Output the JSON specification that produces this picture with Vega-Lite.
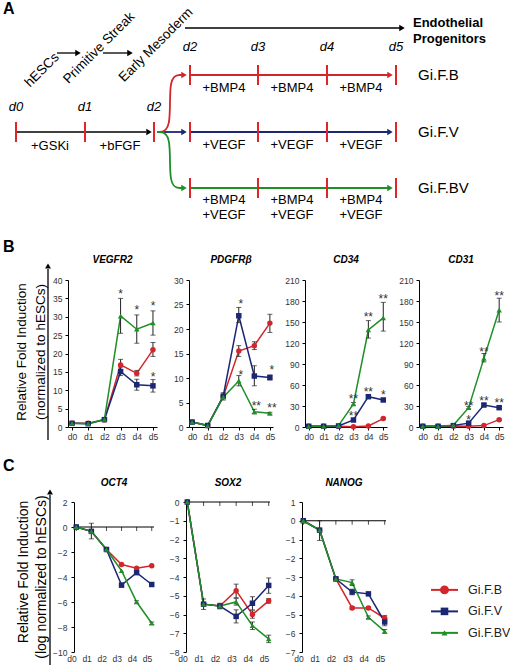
{
"$schema":"https://vega.github.io/schema/vega-lite/v6.json",
"padding":0,
"background":"white",
"bounds":"flush",
"spacing":75,
"config":{"view":{"stroke":null},"font":"Liberation Sans",
 "axis":{"labelFont":"Liberation Sans","labelFontSize":8.5,"labelColor":"#333","domainColor":"#000","tickColor":"#000","tickSize":3,"grid":false,"labelPadding":2,"domainWidth":1,"tickWidth":1},
 "axisY":{"labelPadding":3},
 "title":{"font":"Liberation Sans","fontSize":10,"fontStyle":"italic","fontWeight":"bold","color":"#000"},
 "text":{"font":"Liberation Sans"}},
"datasets":{
"s":[
{"gene":"VEGFR2","day":"d0","grp":"Gi.F.B","v":1},{"gene":"VEGFR2","day":"d0","grp":"Gi.F.V","v":1},{"gene":"VEGFR2","day":"d0","grp":"Gi.F.BV","v":1},
{"gene":"VEGFR2","day":"d1","grp":"Gi.F.B","v":1},{"gene":"VEGFR2","day":"d1","grp":"Gi.F.V","v":0.9},{"gene":"VEGFR2","day":"d1","grp":"Gi.F.BV","v":0.9},
{"gene":"VEGFR2","day":"d2","grp":"Gi.F.B","v":2},{"gene":"VEGFR2","day":"d2","grp":"Gi.F.V","v":2},{"gene":"VEGFR2","day":"d2","grp":"Gi.F.BV","v":2.1},
{"gene":"VEGFR2","day":"d3","grp":"Gi.F.B","v":16.9,"lo":15.6,"hi":18.4},{"gene":"VEGFR2","day":"d3","grp":"Gi.F.V","v":15.1,"lo":14,"hi":16.3},{"gene":"VEGFR2","day":"d3","grp":"Gi.F.BV","v":30.2,"lo":25.5,"hi":35},
{"gene":"VEGFR2","day":"d4","grp":"Gi.F.B","v":14.6,"lo":13.9,"hi":15.4},{"gene":"VEGFR2","day":"d4","grp":"Gi.F.V","v":11.5,"lo":10,"hi":13},{"gene":"VEGFR2","day":"d4","grp":"Gi.F.BV","v":26.6,"lo":22.8,"hi":30.5},
{"gene":"VEGFR2","day":"d5","grp":"Gi.F.B","v":21,"lo":19.2,"hi":23},{"gene":"VEGFR2","day":"d5","grp":"Gi.F.V","v":11.2,"lo":9.5,"hi":12.9},{"gene":"VEGFR2","day":"d5","grp":"Gi.F.BV","v":28.3,"lo":25,"hi":31.6},
{"gene":"PDGFRβ","day":"d0","grp":"Gi.F.B","v":1},{"gene":"PDGFRβ","day":"d0","grp":"Gi.F.V","v":1},{"gene":"PDGFRβ","day":"d0","grp":"Gi.F.BV","v":1},
{"gene":"PDGFRβ","day":"d1","grp":"Gi.F.B","v":0.3},{"gene":"PDGFRβ","day":"d1","grp":"Gi.F.V","v":0.3},{"gene":"PDGFRβ","day":"d1","grp":"Gi.F.BV","v":0.3},
{"gene":"PDGFRβ","day":"d2","grp":"Gi.F.B","v":6.2},{"gene":"PDGFRβ","day":"d2","grp":"Gi.F.V","v":6.3,"lo":5.5,"hi":7},{"gene":"PDGFRβ","day":"d2","grp":"Gi.F.BV","v":6.1},
{"gene":"PDGFRβ","day":"d3","grp":"Gi.F.B","v":15.5,"lo":14.4,"hi":16.6},{"gene":"PDGFRβ","day":"d3","grp":"Gi.F.V","v":22.7,"lo":21.3,"hi":24.4},{"gene":"PDGFRβ","day":"d3","grp":"Gi.F.BV","v":9.4,"lo":8.4,"hi":10.5},
{"gene":"PDGFRβ","day":"d4","grp":"Gi.F.B","v":16.6,"lo":15.8,"hi":17.4},{"gene":"PDGFRβ","day":"d4","grp":"Gi.F.V","v":10.4,"lo":8.4,"hi":12.5},{"gene":"PDGFRβ","day":"d4","grp":"Gi.F.BV","v":3.1,"lo":2.7,"hi":3.6},
{"gene":"PDGFRβ","day":"d5","grp":"Gi.F.B","v":21.2,"lo":19.3,"hi":23},{"gene":"PDGFRβ","day":"d5","grp":"Gi.F.V","v":10.1,"lo":9.6,"hi":10.6},{"gene":"PDGFRβ","day":"d5","grp":"Gi.F.BV","v":2.8,"lo":2.6,"hi":3.0},
{"gene":"CD34","day":"d0","grp":"Gi.F.B","v":1},{"gene":"CD34","day":"d0","grp":"Gi.F.V","v":1},{"gene":"CD34","day":"d0","grp":"Gi.F.BV","v":1},
{"gene":"CD34","day":"d1","grp":"Gi.F.B","v":1},{"gene":"CD34","day":"d1","grp":"Gi.F.V","v":1},{"gene":"CD34","day":"d1","grp":"Gi.F.BV","v":1},
{"gene":"CD34","day":"d2","grp":"Gi.F.B","v":1},{"gene":"CD34","day":"d2","grp":"Gi.F.V","v":1.5},{"gene":"CD34","day":"d2","grp":"Gi.F.BV","v":2},
{"gene":"CD34","day":"d3","grp":"Gi.F.B","v":0.5},{"gene":"CD34","day":"d3","grp":"Gi.F.V","v":10,"lo":8.5,"hi":11.5},{"gene":"CD34","day":"d3","grp":"Gi.F.BV","v":33,"lo":31,"hi":35},
{"gene":"CD34","day":"d4","grp":"Gi.F.B","v":1.5},{"gene":"CD34","day":"d4","grp":"Gi.F.V","v":43.3,"lo":41,"hi":45.5},{"gene":"CD34","day":"d4","grp":"Gi.F.BV","v":138.6,"lo":127,"hi":152},
{"gene":"CD34","day":"d5","grp":"Gi.F.B","v":12,"lo":10.5,"hi":13.5},{"gene":"CD34","day":"d5","grp":"Gi.F.V","v":38.6,"lo":37,"hi":40.2},{"gene":"CD34","day":"d5","grp":"Gi.F.BV","v":156,"lo":137,"hi":178},
{"gene":"CD31","day":"d0","grp":"Gi.F.B","v":1},{"gene":"CD31","day":"d0","grp":"Gi.F.V","v":1},{"gene":"CD31","day":"d0","grp":"Gi.F.BV","v":1},
{"gene":"CD31","day":"d1","grp":"Gi.F.B","v":1},{"gene":"CD31","day":"d1","grp":"Gi.F.V","v":1},{"gene":"CD31","day":"d1","grp":"Gi.F.BV","v":1},
{"gene":"CD31","day":"d2","grp":"Gi.F.B","v":1.5},{"gene":"CD31","day":"d2","grp":"Gi.F.V","v":2},{"gene":"CD31","day":"d2","grp":"Gi.F.BV","v":2.5},
{"gene":"CD31","day":"d3","grp":"Gi.F.B","v":1},{"gene":"CD31","day":"d3","grp":"Gi.F.V","v":5.5,"lo":4,"hi":7},{"gene":"CD31","day":"d3","grp":"Gi.F.BV","v":27.6,"lo":26,"hi":29.2},
{"gene":"CD31","day":"d4","grp":"Gi.F.B","v":2},{"gene":"CD31","day":"d4","grp":"Gi.F.V","v":31.4,"lo":29.5,"hi":33.5},{"gene":"CD31","day":"d4","grp":"Gi.F.BV","v":98,"lo":93,"hi":105},
{"gene":"CD31","day":"d5","grp":"Gi.F.B","v":10.5,"lo":9.5,"hi":11.5},{"gene":"CD31","day":"d5","grp":"Gi.F.V","v":27.6,"lo":26,"hi":29.5},{"gene":"CD31","day":"d5","grp":"Gi.F.BV","v":167,"lo":150,"hi":184},
{"gene":"OCT4","day":"d0","grp":"Gi.F.B","v":0},{"gene":"OCT4","day":"d0","grp":"Gi.F.V","v":0},{"gene":"OCT4","day":"d0","grp":"Gi.F.BV","v":0},
{"gene":"OCT4","day":"d1","grp":"Gi.F.B","v":-0.35},{"gene":"OCT4","day":"d1","grp":"Gi.F.V","v":-0.35,"lo":-0.95,"hi":0.3},{"gene":"OCT4","day":"d1","grp":"Gi.F.BV","v":-0.35},
{"gene":"OCT4","day":"d2","grp":"Gi.F.B","v":-1.8},{"gene":"OCT4","day":"d2","grp":"Gi.F.V","v":-1.8},{"gene":"OCT4","day":"d2","grp":"Gi.F.BV","v":-1.8},
{"gene":"OCT4","day":"d3","grp":"Gi.F.B","v":-3.0},{"gene":"OCT4","day":"d3","grp":"Gi.F.V","v":-4.65,"lo":-4.8,"hi":-4.5},{"gene":"OCT4","day":"d3","grp":"Gi.F.BV","v":-3.5},
{"gene":"OCT4","day":"d4","grp":"Gi.F.B","v":-3.3},{"gene":"OCT4","day":"d4","grp":"Gi.F.V","v":-3.65},{"gene":"OCT4","day":"d4","grp":"Gi.F.BV","v":-6.0,"lo":-6.1,"hi":-5.9},
{"gene":"OCT4","day":"d5","grp":"Gi.F.B","v":-3.1},{"gene":"OCT4","day":"d5","grp":"Gi.F.V","v":-4.6},{"gene":"OCT4","day":"d5","grp":"Gi.F.BV","v":-7.7,"lo":-7.8,"hi":-7.6},
{"gene":"SOX2","day":"d0","grp":"Gi.F.B","v":0},{"gene":"SOX2","day":"d0","grp":"Gi.F.V","v":0},{"gene":"SOX2","day":"d0","grp":"Gi.F.BV","v":0},
{"gene":"SOX2","day":"d1","grp":"Gi.F.B","v":-5.45},{"gene":"SOX2","day":"d1","grp":"Gi.F.V","v":-5.45},{"gene":"SOX2","day":"d1","grp":"Gi.F.BV","v":-5.45,"lo":-5.73,"hi":-5.17},
{"gene":"SOX2","day":"d2","grp":"Gi.F.B","v":-5.55},{"gene":"SOX2","day":"d2","grp":"Gi.F.V","v":-5.55},{"gene":"SOX2","day":"d2","grp":"Gi.F.BV","v":-5.55,"lo":-5.7,"hi":-5.4},
{"gene":"SOX2","day":"d3","grp":"Gi.F.B","v":-4.73,"lo":-5.1,"hi":-4.38},{"gene":"SOX2","day":"d3","grp":"Gi.F.V","v":-6.1,"lo":-6.45,"hi":-5.75},{"gene":"SOX2","day":"d3","grp":"Gi.F.BV","v":-5.33,"lo":-5.5,"hi":-5.15},
{"gene":"SOX2","day":"d4","grp":"Gi.F.B","v":-6.0,"lo":-6.2,"hi":-5.8},{"gene":"SOX2","day":"d4","grp":"Gi.F.V","v":-5.4,"lo":-5.75,"hi":-5.05},{"gene":"SOX2","day":"d4","grp":"Gi.F.BV","v":-6.6,"lo":-6.8,"hi":-6.4},
{"gene":"SOX2","day":"d5","grp":"Gi.F.B","v":-5.27,"lo":-5.4,"hi":-5.15},{"gene":"SOX2","day":"d5","grp":"Gi.F.V","v":-4.45,"lo":-4.87,"hi":-4.05},{"gene":"SOX2","day":"d5","grp":"Gi.F.BV","v":-7.3,"lo":-7.5,"hi":-7.1},
{"gene":"NANOG","day":"d0","grp":"Gi.F.B","v":0},{"gene":"NANOG","day":"d0","grp":"Gi.F.V","v":0},{"gene":"NANOG","day":"d0","grp":"Gi.F.BV","v":0},
{"gene":"NANOG","day":"d1","grp":"Gi.F.B","v":-0.5},{"gene":"NANOG","day":"d1","grp":"Gi.F.V","v":-0.5},{"gene":"NANOG","day":"d1","grp":"Gi.F.BV","v":-0.5,"lo":-1.05,"hi":0},
{"gene":"NANOG","day":"d2","grp":"Gi.F.B","v":-3.1},{"gene":"NANOG","day":"d2","grp":"Gi.F.V","v":-3.1},{"gene":"NANOG","day":"d2","grp":"Gi.F.BV","v":-3.1,"lo":-3.2,"hi":-3.0},
{"gene":"NANOG","day":"d3","grp":"Gi.F.B","v":-4.65,"lo":-4.72,"hi":-4.58},{"gene":"NANOG","day":"d3","grp":"Gi.F.V","v":-3.8,"lo":-3.95,"hi":-3.65},{"gene":"NANOG","day":"d3","grp":"Gi.F.BV","v":-3.3,"lo":-3.45,"hi":-3.15},
{"gene":"NANOG","day":"d4","grp":"Gi.F.B","v":-4.65,"lo":-4.72,"hi":-4.58},{"gene":"NANOG","day":"d4","grp":"Gi.F.V","v":-3.9},{"gene":"NANOG","day":"d4","grp":"Gi.F.BV","v":-5.15,"lo":-5.22,"hi":-5.08},
{"gene":"NANOG","day":"d5","grp":"Gi.F.B","v":-5.2,"lo":-5.35,"hi":-5.05},{"gene":"NANOG","day":"d5","grp":"Gi.F.V","v":-5.4,"lo":-5.6,"hi":-5.2},{"gene":"NANOG","day":"d5","grp":"Gi.F.BV","v":-5.9,"lo":-6.0,"hi":-5.8}
],
"st":[
{"gene":"VEGFR2","day":"d3","v":36.9,"t":"*"},{"gene":"VEGFR2","day":"d4","v":32.6,"t":"*"},{"gene":"VEGFR2","day":"d5","v":33.7,"t":"*"},{"gene":"VEGFR2","day":"d5","v":14.3,"t":"*"},
{"gene":"PDGFRβ","day":"d3","v":25.8,"t":"*"},{"gene":"PDGFRβ","day":"d3","v":11.3,"t":"*"},{"gene":"PDGFRβ","day":"d4","v":4.9,"t":"**"},{"gene":"PDGFRβ","day":"d5","v":4.5,"t":"**"},{"gene":"PDGFRβ","day":"d5","v":12.2,"t":"*"},
{"gene":"CD34","day":"d3","v":44,"t":"**"},{"gene":"CD34","day":"d3","v":20.5,"t":"**"},{"gene":"CD34","day":"d4","v":161,"t":"**"},{"gene":"CD34","day":"d4","v":55,"t":"**"},{"gene":"CD34","day":"d5","v":187,"t":"**"},{"gene":"CD34","day":"d5","v":50,"t":"*"},
{"gene":"CD31","day":"d3","v":35,"t":"**"},{"gene":"CD31","day":"d3","v":15,"t":"*"},{"gene":"CD31","day":"d4","v":111,"t":"**"},{"gene":"CD31","day":"d4","v":42,"t":"**"},{"gene":"CD31","day":"d5","v":192,"t":"**"},{"gene":"CD31","day":"d5","v":39,"t":"**"}
],
"z":[{"v":0}],
"leg":[{"grp":"Gi.F.B","k":0},{"grp":"Gi.F.V","k":1},{"grp":"Gi.F.BV","k":2}],
"a_blk":[{"x":16,"y":132,"x2":146,"y2":132},{"x":57,"y":53,"x2":76,"y2":53},{"x":103,"y":53,"x2":128,"y2":53},{"x":185,"y":28,"x2":400,"y2":28}],
"a_hk":[{"x":149,"y":132},{"x":78,"y":53},{"x":130,"y":53},{"x":402,"y":28}],
"a_col":[{"grp":"Gi.F.V","x":158,"y":132,"x2":182,"y2":132},{"grp":"Gi.F.B","x":190,"y":75,"x2":388,"y2":75},{"grp":"Gi.F.V","x":190,"y":132,"x2":388,"y2":132},{"grp":"Gi.F.BV","x":190,"y":188,"x2":388,"y2":188}],
"a_hc":[{"grp":"Gi.F.B","x":184,"y":75},{"grp":"Gi.F.V","x":184,"y":132},{"grp":"Gi.F.BV","x":184,"y":188},{"grp":"Gi.F.B","x":390,"y":75},{"grp":"Gi.F.V","x":390,"y":132},{"grp":"Gi.F.BV","x":390,"y":188}],
"a_crv":[{"grp":"Gi.F.B","i":0,"x":157,"y":132},{"grp":"Gi.F.B","i":1,"x":172,"y":132},{"grp":"Gi.F.B","i":2,"x":168,"y":75},{"grp":"Gi.F.B","i":3,"x":182,"y":75},
{"grp":"Gi.F.BV","i":0,"x":157,"y":132},{"grp":"Gi.F.BV","i":1,"x":172,"y":132},{"grp":"Gi.F.BV","i":2,"x":168,"y":188},{"grp":"Gi.F.BV","i":3,"x":182,"y":188}],
"a_tck":[{"x":16,"y":122,"y2":142},{"x":85,"y":122,"y2":142},{"x":154,"y":122,"y2":142},
{"x":190,"y":65,"y2":85},{"x":258,"y":65,"y2":85},{"x":327,"y":65,"y2":85},{"x":396,"y":65,"y2":85},
{"x":190,"y":122,"y2":142},{"x":258,"y":122,"y2":142},{"x":327,"y":122,"y2":142},{"x":396,"y":122,"y2":142},
{"x":190,"y":178,"y2":198},{"x":258,"y":178,"y2":198},{"x":327,"y":178,"y2":198},{"x":396,"y":178,"y2":198}],
"a_txt":[
{"role":"letter","x":3,"y":9,"t":"A"},
{"role":"rot","x":42,"y":70,"t":"hESCs"},{"role":"rot","x":99,"y":48,"t":"Primitive Streak"},{"role":"rot","x":156,"y":45,"t":"Early Mesoderm"},
{"role":"plain","x":50,"y":146,"t":"+GSKi"},{"role":"plain","x":120,"y":146,"t":"+bFGF"},
{"role":"plain","x":224,"y":88,"t":"+BMP4"},{"role":"plain","x":292,"y":88,"t":"+BMP4"},{"role":"plain","x":361,"y":88,"t":"+BMP4"},
{"role":"plain","x":224,"y":145,"t":"+VEGF"},{"role":"plain","x":292,"y":145,"t":"+VEGF"},{"role":"plain","x":361,"y":145,"t":"+VEGF"},
{"role":"plain","x":224,"y":200,"t":"+BMP4"},{"role":"plain","x":292,"y":200,"t":"+BMP4"},{"role":"plain","x":361,"y":200,"t":"+BMP4"},
{"role":"plain","x":224,"y":215,"t":"+VEGF"},{"role":"plain","x":292,"y":215,"t":"+VEGF"},{"role":"plain","x":361,"y":215,"t":"+VEGF"},
{"role":"ital","x":16,"y":107,"t":"d0"},{"role":"ital","x":85,"y":107,"t":"d1"},{"role":"ital","x":154,"y":107,"t":"d2"},
{"role":"ital","x":190,"y":47,"t":"d2"},{"role":"ital","x":258,"y":47,"t":"d3"},{"role":"ital","x":327,"y":47,"t":"d4"},{"role":"ital","x":396,"y":47,"t":"d5"},
{"role":"bold","x":413,"y":23,"t":"Endothelial"},{"role":"bold","x":413,"y":39,"t":"Progenitors"},
{"role":"name","x":418,"y":75,"t":"Gi.F.B"},{"role":"name","x":418,"y":132,"t":"Gi.F.V"},{"role":"name","x":418,"y":188,"t":"Gi.F.BV"}
],
"lab":[
{"p":"B","role":"letter","x":3,"y":247,"t":"B"},
{"p":"B","role":"ttl","x":22,"y":352,"t":"Relative Fold Induction"},{"p":"B","role":"ttl","x":41,"y":352,"t":"(normalized to hESCs)"},
{"p":"C","role":"letter","x":3,"y":466,"t":"C"},
{"p":"C","role":"ttl","x":24,"y":572,"t":"Relative Fold Induction"},{"p":"C","role":"ttl","x":42,"y":577,"t":"(log normalized to hESCs)"}
],
"arr":[{"p":"B","x":48,"y":440,"y2":269},{"p":"C","x":50,"y":670,"y2":495}],
"arrh":[{"p":"B","x":48,"y":266},{"p":"C","x":50,"y":492}]
},
"vconcat":[
{
"width":510,"height":205,
"layer":[
{"data":{"name":"a_blk"},"mark":{"type":"rule","color":"#000","strokeWidth":1.3},"encoding":{"x":{"field":"x","type":"quantitative","scale":{"domain":[0,510],"nice":false,"zero":false},"axis":null},"y":{"field":"y","type":"quantitative","scale":{"domain":[0,205],"nice":false,"zero":false,"reverse":true},"axis":null},"x2":{"field":"x2"},"y2":{"field":"y2"}}},
{"data":{"name":"a_col"},"mark":{"type":"rule","strokeWidth":1.8},"encoding":{"x":{"field":"x","type":"quantitative"},"y":{"field":"y","type":"quantitative"},"x2":{"field":"x2"},"y2":{"field":"y2"},"color":{"field":"grp","type":"nominal","scale":{"domain":["Gi.F.B","Gi.F.V","Gi.F.BV"],"range":["#d3262c","#1b2675","#1f8f27"]},"legend":null}}},
{"data":{"name":"a_crv"},"mark":{"type":"line","interpolate":"basis","strokeWidth":1.8},"encoding":{"x":{"field":"x","type":"quantitative"},"y":{"field":"y","type":"quantitative"},"order":{"field":"i"},"color":{"field":"grp","type":"nominal","scale":{"domain":["Gi.F.B","Gi.F.V","Gi.F.BV"],"range":["#d3262c","#1b2675","#1f8f27"]},"legend":null}}},
{"data":{"name":"a_tck"},"mark":{"type":"rule","color":"#e0242a","strokeWidth":2},"encoding":{"x":{"field":"x","type":"quantitative"},"y":{"field":"y","type":"quantitative"},"y2":{"field":"y2"}}},
{"data":{"name":"a_hk"},"mark":{"type":"point","shape":"triangle-right","filled":true,"opacity":1,"color":"#000","size":40},"encoding":{"x":{"field":"x","type":"quantitative"},"y":{"field":"y","type":"quantitative"}}},
{"data":{"name":"a_hc"},"mark":{"type":"point","shape":"triangle-right","filled":true,"opacity":1,"size":40},"encoding":{"x":{"field":"x","type":"quantitative"},"y":{"field":"y","type":"quantitative"},"color":{"field":"grp","type":"nominal","scale":{"domain":["Gi.F.B","Gi.F.V","Gi.F.BV"],"range":["#d3262c","#1b2675","#1f8f27"]},"legend":null}}},
{"data":{"name":"a_txt"},"transform":[{"filter":"datum.role==='letter'"}],"mark":{"type":"text","fontSize":16,"fontWeight":"bold","align":"left","baseline":"middle","color":"#000"},"encoding":{"x":{"field":"x","type":"quantitative"},"y":{"field":"y","type":"quantitative"},"text":{"field":"t"}}},
{"data":{"name":"a_txt"},"transform":[{"filter":"datum.role==='rot'"}],"mark":{"type":"text","fontSize":13.5,"angle":315,"align":"center","baseline":"middle","color":"#000"},"encoding":{"x":{"field":"x","type":"quantitative"},"y":{"field":"y","type":"quantitative"},"text":{"field":"t"}}},
{"data":{"name":"a_txt"},"transform":[{"filter":"datum.role==='plain'"}],"mark":{"type":"text","fontSize":13,"align":"center","baseline":"middle","color":"#000"},"encoding":{"x":{"field":"x","type":"quantitative"},"y":{"field":"y","type":"quantitative"},"text":{"field":"t"}}},
{"data":{"name":"a_txt"},"transform":[{"filter":"datum.role==='ital'"}],"mark":{"type":"text","fontSize":13,"fontStyle":"italic","align":"center","baseline":"middle","color":"#000"},"encoding":{"x":{"field":"x","type":"quantitative"},"y":{"field":"y","type":"quantitative"},"text":{"field":"t"}}},
{"data":{"name":"a_txt"},"transform":[{"filter":"datum.role==='bold'"}],"mark":{"type":"text","fontSize":13,"fontWeight":"bold","align":"left","baseline":"middle","color":"#000"},"encoding":{"x":{"field":"x","type":"quantitative"},"y":{"field":"y","type":"quantitative"},"text":{"field":"t"}}},
{"data":{"name":"a_txt"},"transform":[{"filter":"datum.role==='name'"}],"mark":{"type":"text","fontSize":15,"align":"left","baseline":"middle","color":"#000"},"encoding":{"x":{"field":"x","type":"quantitative"},"y":{"field":"y","type":"quantitative"},"text":{"field":"t"}}}
]
},
{
"bounds":"flush","spacing":222,
"vconcat":[
{
"bounds":"flush","spacing":18,
"hconcat":[
{
"width":50,"height":147,
"layer":[
{"data":{"name":"lab"},"transform":[{"filter":"datum.p==='B' && datum.role==='letter'"}],"mark":{"type":"text","fontSize":16,"fontWeight":"bold","align":"left","baseline":"middle","color":"#000"},"encoding":{"x":{"field":"x","type":"quantitative","scale":{"domain":[0,50],"nice":false,"zero":false},"axis":null},"y":{"field":"y","type":"quantitative","scale":{"domain":[280,427],"nice":false,"zero":false,"reverse":true},"axis":null},"text":{"field":"t"}}},
{"data":{"name":"lab"},"transform":[{"filter":"datum.p==='B' && datum.role==='ttl'"}],"mark":{"type":"text","fontSize":13.5,"angle":270,"align":"center","baseline":"middle","color":"#000"},"encoding":{"x":{"field":"x","type":"quantitative"},"y":{"field":"y","type":"quantitative"},"text":{"field":"t"}}},
{"data":{"name":"arr"},"transform":[{"filter":"datum.p==='B'"}],"mark":{"type":"rule","color":"#000","strokeWidth":1.3},"encoding":{"x":{"field":"x","type":"quantitative"},"y":{"field":"y","type":"quantitative"},"y2":{"field":"y2"}}},
{"data":{"name":"arrh"},"transform":[{"filter":"datum.p==='B'"}],"mark":{"type":"point","shape":"triangle-up","filled":true,"opacity":1,"color":"#000","size":35},"encoding":{"x":{"field":"x","type":"quantitative"},"y":{"field":"y","type":"quantitative"}}}
]
},
{
"bounds":"flush","spacing":32,
"hconcat":[
{
"width":89,"height":147,
"title":{"text":"VEGFR2","offset":11},
"encoding":{"y":{"field":"v","type":"quantitative","title":null,"scale":{"domain":[0,40],"nice":false,"zero":false},"axis":{"values":[0,5,10,15,20,25,30,35,40]}}},
"layer":[
{"data":{"name":"s"},"transform":[{"filter":"datum.gene==='VEGFR2'"}],"mark":{"type":"line","strokeWidth":1.5},"encoding":{"x":{"field":"day","type":"ordinal","title":null,"scale":{"type":"point","padding":0.25,"domain":["d0","d1","d2","d3","d4","d5"]},"axis":{"labelAngle":0}},"color":{"field":"grp","type":"nominal","scale":{"domain":["Gi.F.B","Gi.F.V","Gi.F.BV"],"range":["#d3262c","#1b2675","#1f8f27"]},"legend":null}}},
{"data":{"name":"s"},"transform":[{"filter":"datum.gene==='VEGFR2' && datum.lo != null"}],"mark":{"type":"rule","color":"#222","strokeWidth":1},"encoding":{"x":{"field":"day","type":"ordinal","title":null},"y":{"field":"lo","type":"quantitative","title":null},"y2":{"field":"hi"}}},
{"data":{"name":"s"},"transform":[{"filter":"datum.gene==='VEGFR2' && datum.lo != null"}],"mark":{"type":"tick","color":"#222","size":5,"thickness":1},"encoding":{"x":{"field":"day","type":"ordinal","title":null},"y":{"field":"lo","type":"quantitative","title":null}}},
{"data":{"name":"s"},"transform":[{"filter":"datum.gene==='VEGFR2' && datum.lo != null"}],"mark":{"type":"tick","color":"#222","size":5,"thickness":1},"encoding":{"x":{"field":"day","type":"ordinal","title":null},"y":{"field":"hi","type":"quantitative","title":null}}},
{"data":{"name":"s"},"transform":[{"filter":"datum.gene==='VEGFR2'"}],"mark":{"type":"point","filled":true,"opacity":1,"size":30},"encoding":{"x":{"field":"day","type":"ordinal","title":null},"color":{"field":"grp","type":"nominal","legend":null},"shape":{"field":"grp","type":"nominal","scale":{"domain":["Gi.F.B","Gi.F.V","Gi.F.BV"],"range":["circle","square","triangle-up"]},"legend":null}}},
{"data":{"name":"st"},"transform":[{"filter":"datum.gene==='VEGFR2'"}],"mark":{"type":"text","fontSize":12,"dy":7,"baseline":"alphabetic","color":"#333"},"encoding":{"x":{"field":"day","type":"ordinal","title":null},"text":{"field":"t"}}}
]
},
{
"width":84,"height":147,
"title":{"text":"PDGFRβ","offset":11},
"encoding":{"y":{"field":"v","type":"quantitative","title":null,"scale":{"domain":[0,30],"nice":false,"zero":false},"axis":{"values":[0,5,10,15,20,25,30]}}},
"layer":[
{"data":{"name":"s"},"transform":[{"filter":"datum.gene==='PDGFRβ'"}],"mark":{"type":"line","strokeWidth":1.5},"encoding":{"x":{"field":"day","type":"ordinal","title":null,"scale":{"type":"point","padding":0.2,"domain":["d0","d1","d2","d3","d4","d5"]},"axis":{"labelAngle":0}},"color":{"field":"grp","type":"nominal","scale":{"domain":["Gi.F.B","Gi.F.V","Gi.F.BV"],"range":["#d3262c","#1b2675","#1f8f27"]},"legend":null}}},
{"data":{"name":"s"},"transform":[{"filter":"datum.gene==='PDGFRβ' && datum.lo != null"}],"mark":{"type":"rule","color":"#222","strokeWidth":1},"encoding":{"x":{"field":"day","type":"ordinal","title":null},"y":{"field":"lo","type":"quantitative","title":null},"y2":{"field":"hi"}}},
{"data":{"name":"s"},"transform":[{"filter":"datum.gene==='PDGFRβ' && datum.lo != null"}],"mark":{"type":"tick","color":"#222","size":5,"thickness":1},"encoding":{"x":{"field":"day","type":"ordinal","title":null},"y":{"field":"lo","type":"quantitative","title":null}}},
{"data":{"name":"s"},"transform":[{"filter":"datum.gene==='PDGFRβ' && datum.lo != null"}],"mark":{"type":"tick","color":"#222","size":5,"thickness":1},"encoding":{"x":{"field":"day","type":"ordinal","title":null},"y":{"field":"hi","type":"quantitative","title":null}}},
{"data":{"name":"s"},"transform":[{"filter":"datum.gene==='PDGFRβ'"}],"mark":{"type":"point","filled":true,"opacity":1,"size":30},"encoding":{"x":{"field":"day","type":"ordinal","title":null},"color":{"field":"grp","type":"nominal","legend":null},"shape":{"field":"grp","type":"nominal","scale":{"domain":["Gi.F.B","Gi.F.V","Gi.F.BV"],"range":["circle","square","triangle-up"]},"legend":null}}},
{"data":{"name":"st"},"transform":[{"filter":"datum.gene==='PDGFRβ'"}],"mark":{"type":"text","fontSize":12,"dy":7,"dx":2,"baseline":"alphabetic","color":"#333"},"encoding":{"x":{"field":"day","type":"ordinal","title":null},"text":{"field":"t"}}}
]
},
{
"width":82,"height":147,
"title":{"text":"CD34","offset":11},
"encoding":{"y":{"field":"v","type":"quantitative","title":null,"scale":{"domain":[0,210],"nice":false,"zero":false},"axis":{"values":[0,30,60,90,120,150,180,210]}}},
"layer":[
{"data":{"name":"s"},"transform":[{"filter":"datum.gene==='CD34'"}],"mark":{"type":"line","strokeWidth":1.5},"encoding":{"x":{"field":"day","type":"ordinal","title":null,"scale":{"type":"point","padding":0.25,"domain":["d0","d1","d2","d3","d4","d5"]},"axis":{"labelAngle":0}},"color":{"field":"grp","type":"nominal","scale":{"domain":["Gi.F.B","Gi.F.V","Gi.F.BV"],"range":["#d3262c","#1b2675","#1f8f27"]},"legend":null}}},
{"data":{"name":"s"},"transform":[{"filter":"datum.gene==='CD34' && datum.lo != null"}],"mark":{"type":"rule","color":"#222","strokeWidth":1},"encoding":{"x":{"field":"day","type":"ordinal","title":null},"y":{"field":"lo","type":"quantitative","title":null},"y2":{"field":"hi"}}},
{"data":{"name":"s"},"transform":[{"filter":"datum.gene==='CD34' && datum.lo != null"}],"mark":{"type":"tick","color":"#222","size":5,"thickness":1},"encoding":{"x":{"field":"day","type":"ordinal","title":null},"y":{"field":"lo","type":"quantitative","title":null}}},
{"data":{"name":"s"},"transform":[{"filter":"datum.gene==='CD34' && datum.lo != null"}],"mark":{"type":"tick","color":"#222","size":5,"thickness":1},"encoding":{"x":{"field":"day","type":"ordinal","title":null},"y":{"field":"hi","type":"quantitative","title":null}}},
{"data":{"name":"s"},"transform":[{"filter":"datum.gene==='CD34'"}],"mark":{"type":"point","filled":true,"opacity":1,"size":30},"encoding":{"x":{"field":"day","type":"ordinal","title":null},"color":{"field":"grp","type":"nominal","legend":null},"shape":{"field":"grp","type":"nominal","scale":{"domain":["Gi.F.B","Gi.F.V","Gi.F.BV"],"range":["circle","square","triangle-up"]},"legend":null}}},
{"data":{"name":"st"},"transform":[{"filter":"datum.gene==='CD34'"}],"mark":{"type":"text","fontSize":12,"dy":7,"baseline":"alphabetic","color":"#333"},"encoding":{"x":{"field":"day","type":"ordinal","title":null},"text":{"field":"t"}}}
]
},
{
"width":84,"height":147,
"title":{"text":"CD31","offset":11},
"encoding":{"y":{"field":"v","type":"quantitative","title":null,"scale":{"domain":[0,210],"nice":false,"zero":false},"axis":{"values":[0,30,60,90,120,150,180,210]}}},
"layer":[
{"data":{"name":"s"},"transform":[{"filter":"datum.gene==='CD31'"}],"mark":{"type":"line","strokeWidth":1.5},"encoding":{"x":{"field":"day","type":"ordinal","title":null,"scale":{"type":"point","padding":0.25,"domain":["d0","d1","d2","d3","d4","d5"]},"axis":{"labelAngle":0}},"color":{"field":"grp","type":"nominal","scale":{"domain":["Gi.F.B","Gi.F.V","Gi.F.BV"],"range":["#d3262c","#1b2675","#1f8f27"]},"legend":null}}},
{"data":{"name":"s"},"transform":[{"filter":"datum.gene==='CD31' && datum.lo != null"}],"mark":{"type":"rule","color":"#222","strokeWidth":1},"encoding":{"x":{"field":"day","type":"ordinal","title":null},"y":{"field":"lo","type":"quantitative","title":null},"y2":{"field":"hi"}}},
{"data":{"name":"s"},"transform":[{"filter":"datum.gene==='CD31' && datum.lo != null"}],"mark":{"type":"tick","color":"#222","size":5,"thickness":1},"encoding":{"x":{"field":"day","type":"ordinal","title":null},"y":{"field":"lo","type":"quantitative","title":null}}},
{"data":{"name":"s"},"transform":[{"filter":"datum.gene==='CD31' && datum.lo != null"}],"mark":{"type":"tick","color":"#222","size":5,"thickness":1},"encoding":{"x":{"field":"day","type":"ordinal","title":null},"y":{"field":"hi","type":"quantitative","title":null}}},
{"data":{"name":"s"},"transform":[{"filter":"datum.gene==='CD31'"}],"mark":{"type":"point","filled":true,"opacity":1,"size":30},"encoding":{"x":{"field":"day","type":"ordinal","title":null},"color":{"field":"grp","type":"nominal","legend":null},"shape":{"field":"grp","type":"nominal","scale":{"domain":["Gi.F.B","Gi.F.V","Gi.F.BV"],"range":["circle","square","triangle-up"]},"legend":null}}},
{"data":{"name":"st"},"transform":[{"filter":"datum.gene==='CD31'"}],"mark":{"type":"text","fontSize":12,"dy":7,"baseline":"alphabetic","color":"#333"},"encoding":{"x":{"field":"day","type":"ordinal","title":null},"text":{"field":"t"}}}
]
}
]
}
]
},
{
"bounds":"flush","spacing":24,
"hconcat":[
{
"width":50,"height":150,
"layer":[
{"data":{"name":"lab"},"transform":[{"filter":"datum.p==='C' && datum.role==='letter'"}],"mark":{"type":"text","fontSize":16,"fontWeight":"bold","align":"left","baseline":"middle","color":"#000"},"encoding":{"x":{"field":"x","type":"quantitative","scale":{"domain":[0,50],"nice":false,"zero":false},"axis":null},"y":{"field":"y","type":"quantitative","scale":{"domain":[502,652],"nice":false,"zero":false,"reverse":true},"axis":null},"text":{"field":"t"}}},
{"data":{"name":"lab"},"transform":[{"filter":"datum.p==='C' && datum.role==='ttl'"}],"mark":{"type":"text","fontSize":14,"angle":270,"align":"center","baseline":"middle","color":"#000"},"encoding":{"x":{"field":"x","type":"quantitative"},"y":{"field":"y","type":"quantitative"},"text":{"field":"t"}}},
{"data":{"name":"arr"},"transform":[{"filter":"datum.p==='C'"}],"mark":{"type":"rule","color":"#000","strokeWidth":1.3},"encoding":{"x":{"field":"x","type":"quantitative"},"y":{"field":"y","type":"quantitative"},"y2":{"field":"y2"}}},
{"data":{"name":"arrh"},"transform":[{"filter":"datum.p==='C'"}],"mark":{"type":"point","shape":"triangle-up","filled":true,"opacity":1,"color":"#000","size":35},"encoding":{"x":{"field":"x","type":"quantitative"},"y":{"field":"y","type":"quantitative"}}}
]
},
{
"bounds":"flush","spacing":32,
"hconcat":[
{
"width":80,"height":150,
"title":{"text":"OCT4","offset":10},
"encoding":{"y":{"field":"v","type":"quantitative","title":null,"scale":{"domain":[-10,2],"nice":false,"zero":false},"axis":{"values":[2,0,-2,-4,-6,-8,-10],"labelPadding":4}}},
"layer":[
{"data":{"name":"z"},"mark":{"type":"rule","color":"#000","strokeWidth":1},"encoding":{}},
{"data":{"name":"s"},"transform":[{"filter":"datum.gene==='OCT4' && datum.grp==='Gi.F.B'"}],"mark":{"type":"tick","orient":"vertical","color":"#000","size":4,"thickness":1,"yOffset":2},"encoding":{"x":{"field":"day","type":"ordinal","title":null},"y":{"datum":0}}},
{"data":{"name":"s"},"transform":[{"filter":"datum.gene==='OCT4'"}],"mark":{"type":"line","strokeWidth":1.5},"encoding":{"x":{"field":"day","type":"ordinal","title":null,"scale":{"type":"point","padding":0.15,"domain":["d0","d1","d2","d3","d4","d5"]},"axis":{"labelAngle":0,"domain":false,"ticks":false,"labelPadding":6}},"color":{"field":"grp","type":"nominal","scale":{"domain":["Gi.F.B","Gi.F.V","Gi.F.BV"],"range":["#d3262c","#1b2675","#1f8f27"]},"legend":null}}},
{"data":{"name":"s"},"transform":[{"filter":"datum.gene==='OCT4' && datum.lo != null"}],"mark":{"type":"rule","color":"#222","strokeWidth":1},"encoding":{"x":{"field":"day","type":"ordinal","title":null},"y":{"field":"lo","type":"quantitative","title":null},"y2":{"field":"hi"}}},
{"data":{"name":"s"},"transform":[{"filter":"datum.gene==='OCT4' && datum.lo != null"}],"mark":{"type":"tick","color":"#222","size":5,"thickness":1},"encoding":{"x":{"field":"day","type":"ordinal","title":null},"y":{"field":"lo","type":"quantitative","title":null}}},
{"data":{"name":"s"},"transform":[{"filter":"datum.gene==='OCT4' && datum.lo != null"}],"mark":{"type":"tick","color":"#222","size":5,"thickness":1},"encoding":{"x":{"field":"day","type":"ordinal","title":null},"y":{"field":"hi","type":"quantitative","title":null}}},
{"data":{"name":"s"},"transform":[{"filter":"datum.gene==='OCT4'"}],"mark":{"type":"point","filled":true,"opacity":1,"size":30},"encoding":{"x":{"field":"day","type":"ordinal","title":null},"color":{"field":"grp","type":"nominal","legend":null},"shape":{"field":"grp","type":"nominal","scale":{"domain":["Gi.F.B","Gi.F.V","Gi.F.BV"],"range":["circle","square","triangle-up"]},"legend":null}}}
]
},
{
"width":84,"height":150,
"title":{"text":"SOX2","offset":10},
"encoding":{"y":{"field":"v","type":"quantitative","title":null,"scale":{"domain":[-8,0],"nice":false,"zero":false},"axis":{"values":[0,-1,-2,-3,-4,-5,-6,-7,-8],"labelPadding":4}}},
"layer":[
{"data":{"name":"z"},"mark":{"type":"rule","color":"#000","strokeWidth":1},"encoding":{}},
{"data":{"name":"s"},"transform":[{"filter":"datum.gene==='SOX2' && datum.grp==='Gi.F.B'"}],"mark":{"type":"tick","orient":"vertical","color":"#000","size":4,"thickness":1,"yOffset":2},"encoding":{"x":{"field":"day","type":"ordinal","title":null},"y":{"datum":0}}},
{"data":{"name":"s"},"transform":[{"filter":"datum.gene==='SOX2'"}],"mark":{"type":"line","strokeWidth":1.5},"encoding":{"x":{"field":"day","type":"ordinal","title":null,"scale":{"type":"point","padding":0.08,"domain":["d0","d1","d2","d3","d4","d5"]},"axis":{"labelAngle":0,"domain":false,"ticks":false,"labelPadding":6}},"color":{"field":"grp","type":"nominal","scale":{"domain":["Gi.F.B","Gi.F.V","Gi.F.BV"],"range":["#d3262c","#1b2675","#1f8f27"]},"legend":null}}},
{"data":{"name":"s"},"transform":[{"filter":"datum.gene==='SOX2' && datum.lo != null"}],"mark":{"type":"rule","color":"#222","strokeWidth":1},"encoding":{"x":{"field":"day","type":"ordinal","title":null},"y":{"field":"lo","type":"quantitative","title":null},"y2":{"field":"hi"}}},
{"data":{"name":"s"},"transform":[{"filter":"datum.gene==='SOX2' && datum.lo != null"}],"mark":{"type":"tick","color":"#222","size":5,"thickness":1},"encoding":{"x":{"field":"day","type":"ordinal","title":null},"y":{"field":"lo","type":"quantitative","title":null}}},
{"data":{"name":"s"},"transform":[{"filter":"datum.gene==='SOX2' && datum.lo != null"}],"mark":{"type":"tick","color":"#222","size":5,"thickness":1},"encoding":{"x":{"field":"day","type":"ordinal","title":null},"y":{"field":"hi","type":"quantitative","title":null}}},
{"data":{"name":"s"},"transform":[{"filter":"datum.gene==='SOX2'"}],"mark":{"type":"point","filled":true,"opacity":1,"size":30},"encoding":{"x":{"field":"day","type":"ordinal","title":null},"color":{"field":"grp","type":"nominal","legend":null},"shape":{"field":"grp","type":"nominal","scale":{"domain":["Gi.F.B","Gi.F.V","Gi.F.BV"],"range":["circle","square","triangle-up"]},"legend":null}}}
]
},
{
"width":84,"height":150,
"title":{"text":"NANOG","offset":10},
"encoding":{"y":{"field":"v","type":"quantitative","title":null,"scale":{"domain":[-7,1],"nice":false,"zero":false},"axis":{"values":[1,0,-1,-2,-3,-4,-5,-6,-7],"labelPadding":4}}},
"layer":[
{"data":{"name":"z"},"mark":{"type":"rule","color":"#000","strokeWidth":1},"encoding":{}},
{"data":{"name":"s"},"transform":[{"filter":"datum.gene==='NANOG' && datum.grp==='Gi.F.B'"}],"mark":{"type":"tick","orient":"vertical","color":"#000","size":4,"thickness":1,"yOffset":2},"encoding":{"x":{"field":"day","type":"ordinal","title":null},"y":{"datum":0}}},
{"data":{"name":"s"},"transform":[{"filter":"datum.gene==='NANOG'"}],"mark":{"type":"line","strokeWidth":1.5},"encoding":{"x":{"field":"day","type":"ordinal","title":null,"scale":{"type":"point","padding":0.08,"domain":["d0","d1","d2","d3","d4","d5"]},"axis":{"labelAngle":0,"domain":false,"ticks":false,"labelPadding":6}},"color":{"field":"grp","type":"nominal","scale":{"domain":["Gi.F.B","Gi.F.V","Gi.F.BV"],"range":["#d3262c","#1b2675","#1f8f27"]},"legend":null}}},
{"data":{"name":"s"},"transform":[{"filter":"datum.gene==='NANOG' && datum.lo != null"}],"mark":{"type":"rule","color":"#222","strokeWidth":1},"encoding":{"x":{"field":"day","type":"ordinal","title":null},"y":{"field":"lo","type":"quantitative","title":null},"y2":{"field":"hi"}}},
{"data":{"name":"s"},"transform":[{"filter":"datum.gene==='NANOG' && datum.lo != null"}],"mark":{"type":"tick","color":"#222","size":5,"thickness":1},"encoding":{"x":{"field":"day","type":"ordinal","title":null},"y":{"field":"lo","type":"quantitative","title":null}}},
{"data":{"name":"s"},"transform":[{"filter":"datum.gene==='NANOG' && datum.lo != null"}],"mark":{"type":"tick","color":"#222","size":5,"thickness":1},"encoding":{"x":{"field":"day","type":"ordinal","title":null},"y":{"field":"hi","type":"quantitative","title":null}}},
{"data":{"name":"s"},"transform":[{"filter":"datum.gene==='NANOG'"}],"mark":{"type":"point","filled":true,"opacity":1,"size":30},"encoding":{"x":{"field":"day","type":"ordinal","title":null},"color":{"field":"grp","type":"nominal","legend":null},"shape":{"field":"grp","type":"nominal","scale":{"domain":["Gi.F.B","Gi.F.V","Gi.F.BV"],"range":["circle","square","triangle-up"]},"legend":null}}}
]
},
{
"width":90,"height":150,
"data":{"name":"leg"},
"layer":[
{"mark":{"type":"rule","strokeWidth":2},"encoding":{"x":{"datum":13,"type":"quantitative","scale":{"domain":[0,90],"nice":false,"zero":false},"axis":null},"x2":{"datum":40},"y":{"field":"k","type":"quantitative","scale":{"domain":[-4.09,2.89],"nice":false,"zero":false,"reverse":true},"axis":null},"color":{"field":"grp","type":"nominal","scale":{"domain":["Gi.F.B","Gi.F.V","Gi.F.BV"],"range":["#d3262c","#1b2675","#1f8f27"]},"legend":null}}},
{"mark":{"type":"point","filled":true,"opacity":1},"encoding":{"x":{"datum":26.5,"type":"quantitative"},"y":{"field":"k","type":"quantitative"},"color":{"field":"grp","type":"nominal","legend":null},"shape":{"field":"grp","type":"nominal","scale":{"domain":["Gi.F.B","Gi.F.V","Gi.F.BV"],"range":["circle","square","triangle-up"]},"legend":null},"size":{"field":"grp","type":"nominal","scale":{"domain":["Gi.F.B","Gi.F.V","Gi.F.BV"],"range":[80,35,45]},"legend":null}}},
{"mark":{"type":"text","align":"left","baseline":"middle","fontSize":12.5,"color":"#222"},"encoding":{"x":{"datum":50,"type":"quantitative"},"y":{"field":"k","type":"quantitative"},"text":{"field":"grp"}}}
]
}
]
}
]
}
]
}
]
}
